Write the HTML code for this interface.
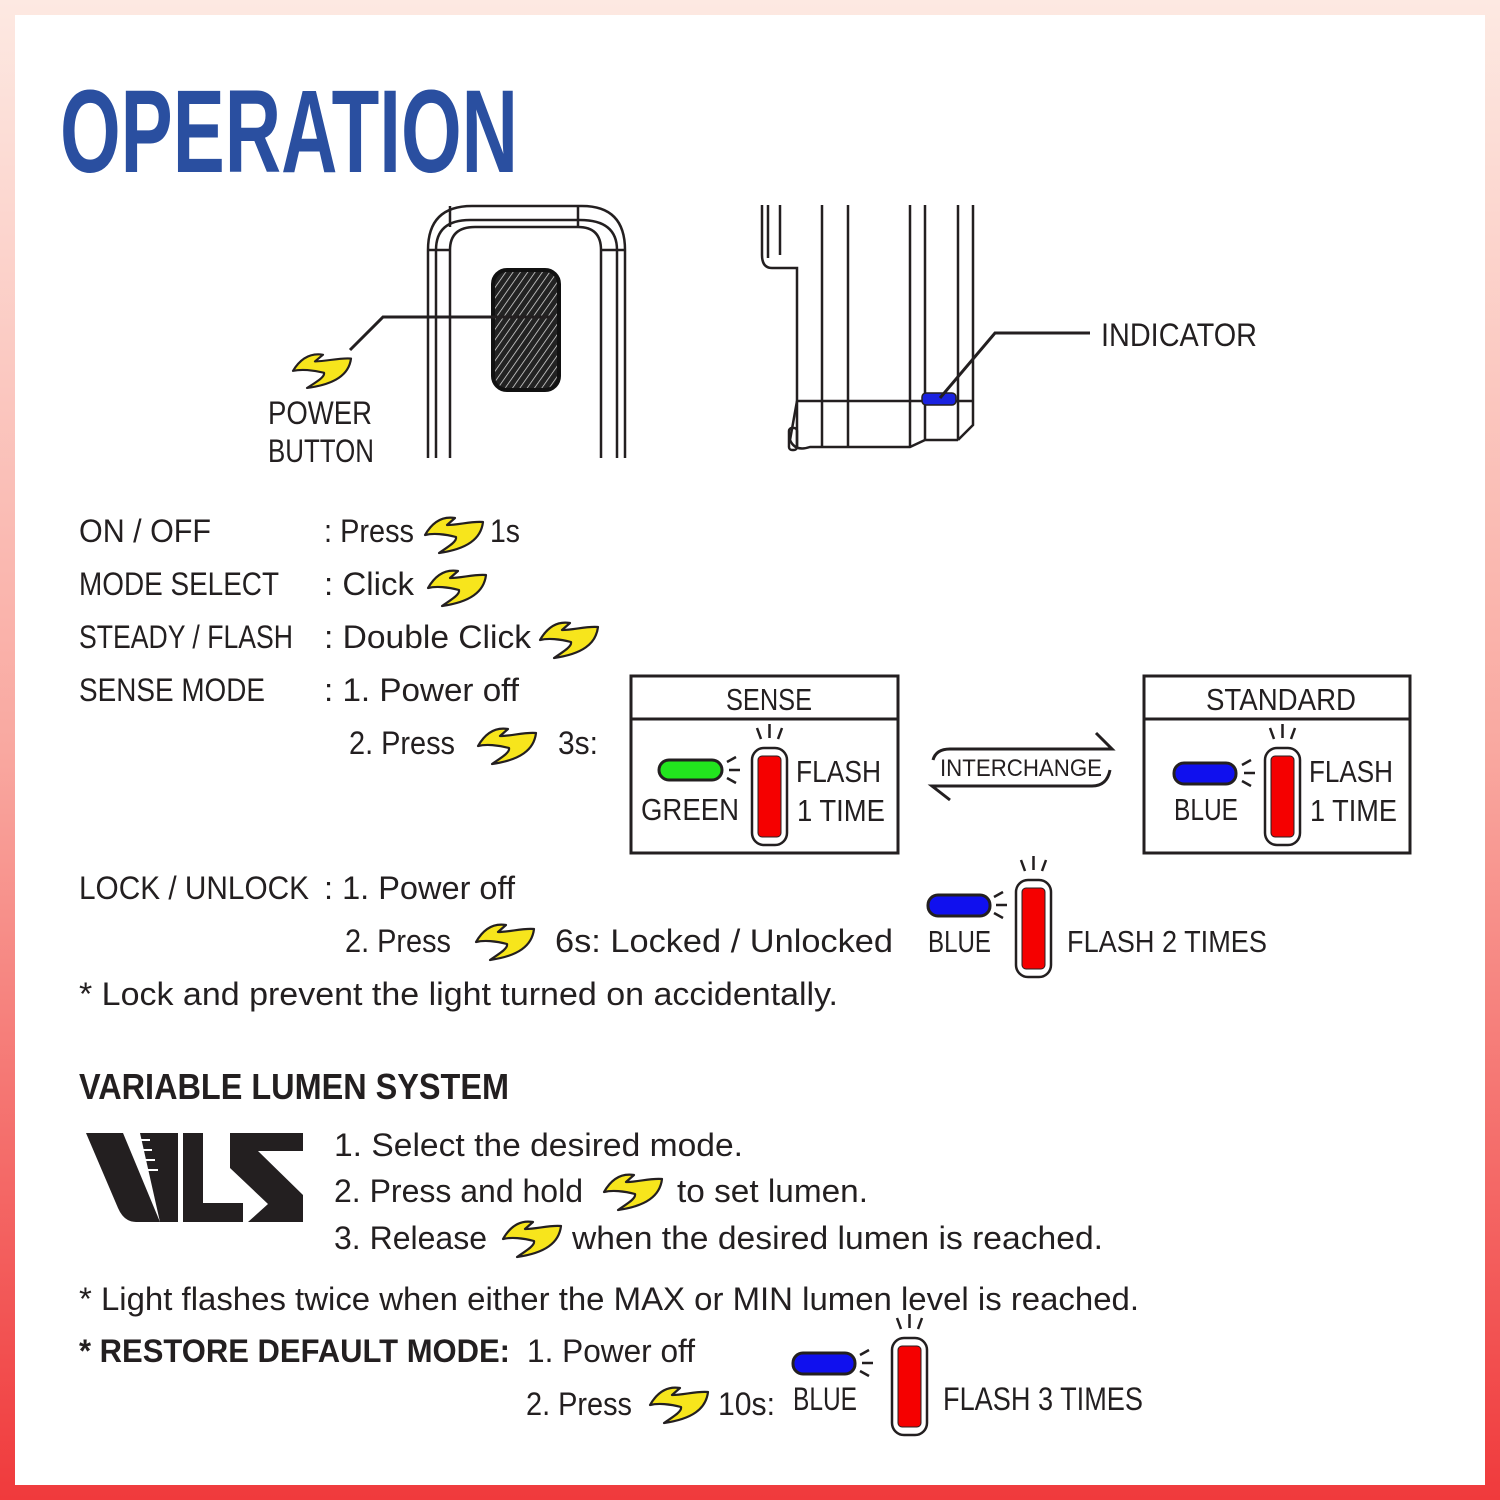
<!DOCTYPE html>
<html><head><meta charset="utf-8"><style>
html,body{margin:0;padding:0;width:1500px;height:1500px;overflow:hidden}
svg text{font-family:"Liberation Sans",sans-serif;fill:#231f20}
</style></head><body>
<svg width="1500" height="1500" viewBox="0 0 1500 1500" xmlns="http://www.w3.org/2000/svg">
<defs>
<linearGradient id="bg" x1="0" y1="0" x2="0" y2="1">
<stop offset="0" stop-color="#fde9e2"/><stop offset="0.5" stop-color="#f9a8a0"/><stop offset="1" stop-color="#f03a3c"/>
</linearGradient>
<pattern id="hatch" width="6" height="6" patternUnits="userSpaceOnUse" patternTransform="rotate(35)">
<rect width="6" height="6" fill="#222"/><line x1="0" y1="0" x2="0" y2="6" stroke="#ddd" stroke-width="1.5"/>
</pattern>
<g id="bolt"><path d="M0,22 C8,8 18,3 30,5 L22,12 C34,12 46,8 58,9 C56,26 42,36 14,40 C26,32 32,28 31,24 C20,21 8,20 0,22 Z" fill="#f7e51c" stroke="#231f20" stroke-width="2.2" stroke-linejoin="round"/></g>
<g id="bar"><rect x="0" y="0" width="35" height="97" rx="12" fill="#fff" stroke="#231f20" stroke-width="2.5"/><rect x="6" y="8" width="23" height="81" rx="4" fill="#f50000" stroke="#231f20" stroke-width="1"/>
<path d="M5,-20 L9,-9 M17.5,-24 L17.5,-10 M30,-20 L26,-9" stroke="#231f20" stroke-width="2.5" fill="none"/></g>
<g id="rays" stroke="#231f20" stroke-width="2.5" fill="none"><path d="M0,-8 L9,-13 M2,0 L13,0 M0,8 L9,13"/></g>
</defs>
<rect width="1500" height="1500" fill="url(#bg)"/>
<rect x="15" y="15" width="1470" height="1470" fill="#fff"/>

<text x="60" y="172" font-family="Liberation Sans Narrow" font-weight="bold" font-size="118" style="fill:#2a4fa0" textLength="458" lengthAdjust="spacingAndGlyphs">OPERATION</text>

<!-- left device -->
<g fill="none" stroke="#231f20" stroke-width="2.5">
<path d="M428,458 V250 Q428,206 472,206 H582 Q625,206 625,250 V458"/>
<path d="M436,458 V250 Q436,220 470,220 H580 Q617,220 617,250 V458"/>
<path d="M450,458 V250 Q450,227 475,227 H578 Q601,227 601,250 V458"/>
<line x1="428" y1="250" x2="450" y2="250"/><line x1="601" y1="250" x2="625" y2="250"/>
<path d="M450,206 V227 M578,206 V227"/>
</g>
<rect x="493" y="270" width="66" height="120" rx="14" fill="url(#hatch)" stroke="#111" stroke-width="4"/>
<path d="M350,350 L383,317 H553" fill="none" stroke="#231f20" stroke-width="3"/>
<use href="#bolt" transform="translate(293,350) scale(1,0.95)"/>
<text x="268" y="424" font-size="32" textLength="104" lengthAdjust="spacingAndGlyphs">POWER</text>
<text x="268" y="462" font-size="32" textLength="106" lengthAdjust="spacingAndGlyphs">BUTTON</text>

<!-- right device -->
<g fill="none" stroke="#231f20" stroke-width="2.5">
<path d="M762,205 V255 Q762,268 772,268 H797 V447"/>
<path d="M780,205 V255"/><path d="M768,205 V258"/>
<path d="M822,205 V447 M848,205 V447 M910,205 V447 M925,205 V440 M958,205 V440 M973,205 V425 L958,440"/>
<path d="M797,401 H973"/>
<path d="M797,401 L790,440 Q795,452 810,447 L910,447 L925,440 H958"/>
<rect x="789" y="428" width="8" height="22" rx="3"/>
</g>
<rect x="922" y="393" width="34" height="12" rx="4" fill="#1a22e0" stroke="#231f20" stroke-width="1.5"/>
<path d="M940,398 L995,333 H1090" fill="none" stroke="#231f20" stroke-width="3"/>
<text x="1101" y="346" font-size="32" textLength="156" lengthAdjust="spacingAndGlyphs">INDICATOR</text>

<!-- commands -->
<g font-size="32">
<text x="79" y="542" textLength="132" lengthAdjust="spacingAndGlyphs">ON / OFF</text>
<text x="324" y="542" textLength="90" lengthAdjust="spacingAndGlyphs">: Press</text>
<text x="490" y="542" textLength="30" lengthAdjust="spacingAndGlyphs">1s</text>
<text x="79" y="595" textLength="200" lengthAdjust="spacingAndGlyphs">MODE SELECT</text>
<text x="324" y="595" textLength="90" lengthAdjust="spacingAndGlyphs">: Click</text>
<text x="79" y="648" textLength="214" lengthAdjust="spacingAndGlyphs">STEADY / FLASH</text>
<text x="324" y="648" textLength="207" lengthAdjust="spacingAndGlyphs">: Double Click</text>
<text x="79" y="701" textLength="186" lengthAdjust="spacingAndGlyphs">SENSE MODE</text>
<text x="324" y="701" textLength="195" lengthAdjust="spacingAndGlyphs">:  1. Power off</text>
<text x="349" y="754" textLength="106" lengthAdjust="spacingAndGlyphs">2. Press</text>
<text x="558" y="754" textLength="40" lengthAdjust="spacingAndGlyphs">3s:</text>
<text x="79" y="899" textLength="230" lengthAdjust="spacingAndGlyphs">LOCK / UNLOCK</text>
<text x="324" y="899" textLength="191" lengthAdjust="spacingAndGlyphs">: 1. Power off</text>
<text x="345" y="952" textLength="106" lengthAdjust="spacingAndGlyphs">2. Press</text>
<text x="555" y="952" textLength="338" lengthAdjust="spacingAndGlyphs">6s: Locked  /  Unlocked</text>
<text x="79" y="1005" textLength="759" lengthAdjust="spacingAndGlyphs">* Lock and prevent the light turned on accidentally.</text>
</g>
<use href="#bolt" x="425" y="513"/>
<use href="#bolt" x="428" y="566"/>
<use href="#bolt" x="540" y="618"/>
<use href="#bolt" x="478" y="724"/>
<use href="#bolt" x="476" y="920"/>

<!-- sense box -->
<g fill="none" stroke="#231f20" stroke-width="3"><rect x="631" y="676" width="267" height="177"/><line x1="631" y1="719" x2="898" y2="719"/>
<rect x="1144" y="676" width="266" height="177"/><line x1="1144" y1="719" x2="1410" y2="719"/></g>
<g font-size="31">
<text x="769" y="710" text-anchor="middle" textLength="86" lengthAdjust="spacingAndGlyphs">SENSE</text>
<text x="1281" y="710" text-anchor="middle" textLength="150" lengthAdjust="spacingAndGlyphs">STANDARD</text>
<text x="641" y="820" textLength="98" lengthAdjust="spacingAndGlyphs">GREEN</text>
<text x="796" y="782" textLength="85" lengthAdjust="spacingAndGlyphs">FLASH</text>
<text x="797" y="821" textLength="88" lengthAdjust="spacingAndGlyphs">1  TIME</text>
<text x="1174" y="820" textLength="64" lengthAdjust="spacingAndGlyphs">BLUE</text>
<text x="1309" y="782" textLength="84" lengthAdjust="spacingAndGlyphs">FLASH</text>
<text x="1310" y="821" textLength="87" lengthAdjust="spacingAndGlyphs">1  TIME</text>
<text x="928" y="952" textLength="63" lengthAdjust="spacingAndGlyphs">BLUE</text>
<text x="1067" y="952" textLength="200" lengthAdjust="spacingAndGlyphs">FLASH 2 TIMES</text>
</g>
<rect x="659" y="760" width="63" height="20" rx="10" fill="#22e51e" stroke="#231f20" stroke-width="3"/>
<use href="#rays" x="727" y="770"/>
<use href="#bar" x="752" y="748"/>
<rect x="1174" y="763" width="62" height="21" rx="10" fill="#1010ee" stroke="#231f20" stroke-width="3"/>
<use href="#rays" x="1242" y="773"/>
<use href="#bar" x="1265" y="748"/>
<rect x="928" y="895" width="62" height="21" rx="10" fill="#1010ee" stroke="#231f20" stroke-width="3"/>
<use href="#rays" x="994" y="905"/>
<use href="#bar" x="1016" y="880"/>
<!-- interchange -->
<g fill="none" stroke="#231f20" stroke-width="3">
<path d="M933,760 Q936,749 950,749 H1112 L1096,733"/>
<path d="M1110,770 Q1107,786 1092,786 H932 L950,800"/>
</g>
<text x="1021" y="776" font-size="24" text-anchor="middle" textLength="162" lengthAdjust="spacingAndGlyphs">INTERCHANGE</text>

<!-- VLS -->
<text x="79" y="1099" font-size="36" font-weight="bold" textLength="430" lengthAdjust="spacingAndGlyphs">VARIABLE LUMEN SYSTEM</text>
<g fill="#231f20">
<path d="M86,1133 H123 L160,1222 H136 Q124,1222 118,1208 Z"/>
<path d="M140,1133 H178 V1222 H160 Z"/>
<rect x="183" y="1133" width="20" height="89"/>
<rect x="183" y="1203" width="60" height="19"/>
<path d="M230,1133 H303 V1151 H258 L303,1195 V1222 H248 L268,1204 L230,1168 Z"/>
</g>
<g stroke="#fff" stroke-width="2"><path d="M135,1140 H150 M138,1150 H152 M141,1160 H155 M144,1170 H158"/></g>
<g font-size="32">
<text x="334" y="1156" textLength="409" lengthAdjust="spacingAndGlyphs">1. Select the desired mode.</text>
<text x="334" y="1202" textLength="249" lengthAdjust="spacingAndGlyphs">2. Press and hold</text>
<text x="677" y="1202" textLength="191" lengthAdjust="spacingAndGlyphs">to set lumen.</text>
<text x="334" y="1249" textLength="153" lengthAdjust="spacingAndGlyphs">3. Release</text>
<text x="572" y="1249" textLength="531" lengthAdjust="spacingAndGlyphs">when the desired lumen is reached.</text>
<text x="79" y="1310" textLength="1060" lengthAdjust="spacingAndGlyphs">* Light flashes twice when either the MAX or MIN lumen level is reached.</text>
<text x="79" y="1362" font-weight="bold" textLength="431" lengthAdjust="spacingAndGlyphs">* RESTORE DEFAULT MODE:</text>
<text x="527" y="1362" textLength="168" lengthAdjust="spacingAndGlyphs">1. Power off</text>
<text x="526" y="1415" textLength="106" lengthAdjust="spacingAndGlyphs">2. Press</text>
<text x="718" y="1415" textLength="57" lengthAdjust="spacingAndGlyphs">10s:</text>
<text x="793" y="1410" textLength="64" lengthAdjust="spacingAndGlyphs">BLUE</text>
<text x="943" y="1410" textLength="200" lengthAdjust="spacingAndGlyphs">FLASH 3 TIMES</text>
</g>
<use href="#bolt" x="604" y="1170"/>
<use href="#bolt" x="503" y="1217"/>
<use href="#bolt" x="650" y="1383"/>
<rect x="793" y="1353" width="62" height="21" rx="10" fill="#1010ee" stroke="#231f20" stroke-width="3"/>
<use href="#rays" x="860" y="1363"/>
<use href="#bar" x="892" y="1338"/>
</svg>
</body></html>
